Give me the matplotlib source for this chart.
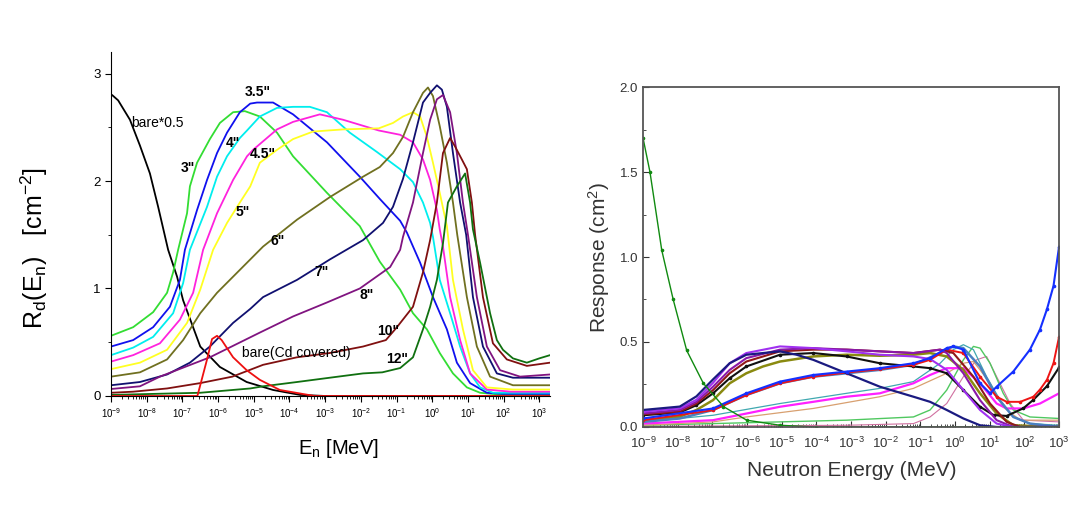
import numpy as np
import matplotlib.pyplot as plt
from matplotlib.ticker import LogLocator, LogFormatterSciNotation, NullFormatter, MultipleLocator

plt.rcParams['font.family'] = ['Liberation Sans', 'DejaVu Sans']
plt.rcParams['mathtext.default'] = 'regular'

# ---------------- left panel: Bonner sphere responses (log10 E [MeV], R [cm^-2])
bare_x = [-9, -8.97, -8.8, -8.47, -8.19, -7.91, -7.68, -7.4, -7.15, -6.98, -6.5, -5.95, -5.2, -4.46, -3.7, -3.0, 3.3]
bare_y = [2.80, 2.80, 2.75, 2.57, 2.33, 2.07, 1.76, 1.36, 1.11, 0.89, 0.46, 0.27, 0.13, 0.056, 0.01, 0.0, 0.0]

cd_x = [-9, -6.58, -6.31, -6.17, -6.03, -5.9, -5.58, -5.2, -4.83, -4.27, -3.3, 3.3]
cd_y = [0.0, 0.0, 0.34, 0.53, 0.56, 0.52, 0.36, 0.24, 0.15, 0.056, 0.0, 0.0]

s30_x = [-9, -8.38, -7.82, -7.43, -7.26, -7.12, -6.87, -6.79, -6.59, -6.23, -5.95, -5.58, -5.25, -4.83, -4.35,
         -3.9, -2.95, -2.03, -1.47, -0.9, -0.54, -0.15, 0.21, 0.58, 0.97, 1.34, 2.0, 3.3]
s30_y = [0.56, 0.64, 0.78, 0.96, 1.15, 1.36, 1.70, 1.95, 2.17, 2.39, 2.54, 2.64, 2.65, 2.60, 2.45,
         2.23, 1.89, 1.58, 1.25, 0.99, 0.77, 0.62, 0.40, 0.21, 0.08, 0.03, 0.01, 0.01]

s35_x = [-9, -8.38, -7.82, -7.35, -7.07, -6.93, -6.59, -6.31, -6.03, -5.75, -5.39, -5.1, -4.91, -4.46, -3.9,
         -2.95, -2.03, -1.46, -0.9, -0.71, -0.34, 0.02, 0.41, 0.69, 1.06, 1.53, 2.0, 3.3]
s35_y = [0.46, 0.52, 0.64, 0.83, 1.08, 1.36, 1.73, 2.01, 2.26, 2.45, 2.64, 2.72, 2.73, 2.73, 2.62,
         2.36, 2.04, 1.83, 1.63, 1.52, 1.24, 0.92, 0.62, 0.31, 0.12, 0.03, 0.02, 0.02]

s40_x = [-9, -8.38, -7.82, -7.26, -6.98, -6.79, -6.31, -6.03, -5.75, -5.39, -5.19, -4.83, -4.35, -3.9, -3.43,
         -2.95, -2.31, -1.55, -0.9, -0.54, -0.26, -0.06, 0.02, 0.21, 0.5, 0.78, 1.06, 1.34, 1.7, 3.3]
s40_y = [0.38, 0.45, 0.55, 0.77, 1.05, 1.36, 1.76, 2.04, 2.23, 2.40, 2.47, 2.60, 2.68, 2.69, 2.69,
         2.64, 2.45, 2.27, 2.11, 1.99, 1.80, 1.61, 1.48, 1.08, 0.77, 0.46, 0.21, 0.08, 0.03, 0.03]

s45_x = [-9, -8.38, -7.63, -7.07, -6.7, -6.42, -6.03, -5.58, -5.19, -5.02, -4.35, -3.9, -3.15, -2.5, -1.5,
         -0.9, -0.54, -0.26, -0.06, 0.13, 0.21, 0.3, 0.5, 0.78, 1.06, 1.53, 2.2, 3.3]
s45_y = [0.32, 0.38, 0.49, 0.71, 0.96, 1.36, 1.70, 2.01, 2.23, 2.29, 2.48, 2.55, 2.62, 2.57, 2.47,
         2.43, 2.36, 2.20, 2.01, 1.73, 1.55, 1.39, 0.92, 0.52, 0.21, 0.06, 0.04, 0.04]

s50_x = [-9, -8.19, -7.43, -6.87, -6.5, -6.14, -5.75, -5.39, -5.1, -4.83, -4.35, -3.9, -3.34, -2.5, -1.5,
         -1.1, -0.82, -0.54, -0.34, -0.15, 0.02, 0.21, 0.41, 0.58, 0.86, 1.14, 1.53, 2.26, 3.3]
s50_y = [0.25, 0.31, 0.43, 0.68, 0.99, 1.36, 1.61, 1.80, 1.95, 2.17, 2.29, 2.39, 2.46, 2.48, 2.49,
         2.54, 2.60, 2.64, 2.60, 2.41, 2.17, 1.89, 1.58, 1.08, 0.62, 0.24, 0.08, 0.06, 0.06]

s60_x = [-9, -8.19, -7.43, -6.98, -6.5, -6.03, -5.58, -5.1, -4.74, -3.79, -2.87, -1.94, -1.47, -1.1, -0.82,
         -0.54, -0.26, -0.12, 0.02, 0.21, 0.41, 0.58, 0.7, 0.97, 1.25, 1.62, 2.26, 3.3]
s60_y = [0.18, 0.22, 0.34, 0.52, 0.77, 0.96, 1.11, 1.27, 1.39, 1.64, 1.85, 2.04, 2.13, 2.26, 2.41,
         2.64, 2.82, 2.87, 2.79, 2.51, 2.17, 1.80, 1.50, 0.92, 0.46, 0.18, 0.10, 0.10]

s70_x = [-9, -8.19, -7.43, -6.79, -6.23, -5.58, -5.1, -4.74, -3.79, -2.87, -1.94, -1.38, -1.1, -0.82, -0.54,
         -0.26, -0.06, 0.13, 0.27, 0.41, 0.58, 0.78, 0.95, 1.14, 1.42, 1.81, 2.26, 3.3]
s70_y = [0.10, 0.13, 0.20, 0.31, 0.46, 0.68, 0.81, 0.92, 1.08, 1.27, 1.45, 1.61, 1.76, 2.02, 2.36,
         2.73, 2.82, 2.89, 2.85, 2.69, 2.26, 1.80, 1.50, 0.92, 0.46, 0.21, 0.17, 0.17]

s80_x = [-9, -8.19, -7.63, -6.23, -4.83, -3.9, -2.95, -2.03, -1.18, -0.9, -0.82, -0.54, -0.26, -0.06, 0.13,
         0.3, 0.5, 0.69, 0.86, 1.0, 1.25, 1.53, 1.9, 2.46, 3.3]
s80_y = [0.065, 0.09, 0.18, 0.36, 0.59, 0.74, 0.87, 1.0, 1.2, 1.36, 1.48, 1.80, 2.26, 2.57, 2.76,
         2.80, 2.64, 2.26, 1.80, 1.50, 0.92, 0.46, 0.24, 0.18, 0.20]

s100_x = [-9, -8.38, -7.43, -6.5, -5.6, -4.74, -3.79, -2.87, -1.94, -1.3, -0.99, -0.54, -0.26, -0.06, 0.13,
          0.3, 0.5, 0.64, 0.83, 0.97, 1.11, 1.2, 1.42, 1.7, 2.09, 2.65, 3.3]
s100_y = [0.03, 0.04, 0.07, 0.12, 0.18, 0.29, 0.36, 0.40, 0.46, 0.52, 0.64, 0.83, 1.15, 1.45, 1.80,
          2.26, 2.40, 2.32, 2.20, 2.11, 1.80, 1.50, 0.92, 0.49, 0.34, 0.28, 0.31]

s120_x = [-9, -6.5, -5.1, -4.74, -3.79, -2.87, -1.94, -1.4, -0.9, -0.54, -0.26, -0.06, 0.13, 0.3, 0.44,
          0.69, 0.92, 1.06, 1.14, 1.34, 1.62, 1.81, 1.98, 2.26, 2.65, 3.0, 3.3]
s120_y = [0.01, 0.03, 0.07, 0.09, 0.13, 0.17, 0.21, 0.22, 0.26, 0.36, 0.62, 0.83, 1.08, 1.42, 1.80,
          1.95, 2.07, 1.80, 1.55, 1.24, 0.77, 0.52, 0.43, 0.35, 0.31, 0.35, 0.38]

left_curves = [
    (bare_x, bare_y, 'black'),
    (s30_x, s30_y, '#33dd33'),
    (s35_x, s35_y, '#1010ee'),
    (s40_x, s40_y, '#00eeee'),
    (s45_x, s45_y, '#ff22dd'),
    (s50_x, s50_y, '#ffff22'),
    (s60_x, s60_y, '#707020'),
    (s70_x, s70_y, '#101070'),
    (s80_x, s80_y, '#801480'),
    (s100_x, s100_y, '#801010'),
    (s120_x, s120_y, '#107010'),
    (cd_x, cd_y, '#ee1010'),
]

left_labels = ['bare*0.5', '3"', '3.5"', '4"', '4.5"', '5"', '6"', '7"', '8"', '10"', '12"', 'bare(Cd covered)']
label_x = [-8.44, -6.84, -4.88, -5.58, -4.74, -5.3, -4.32, -3.09, -1.83, -1.24, -0.99, -5.33]
label_y = [2.54, 2.12, 2.83, 2.35, 2.25, 1.71, 1.44, 1.15, 0.94, 0.60, 0.34, 0.40]

# ---------------- right panel: response functions (log10 E [MeV], response [cm^2])
r_bare_x = [-9, -8.8, -8.46, -8.13, -7.74, -7.26, -6.68, -6.01, -5.05, -4.0, 3.0]
r_bare_y = [1.70, 1.50, 1.04, 0.75, 0.45, 0.257, 0.12, 0.04, 0.01, 0.0, 0.0]

r_navy_x = [-9, -7.94, -7.46, -6.98, -6.5, -6.02, -5.05, -4.57, -4.09, -3.13, -2.17, -1.2, -0.72, -0.24, 0.24, 0.72, 1.2, 3.0]
r_navy_y = [0.10, 0.12, 0.18, 0.28, 0.375, 0.425, 0.445, 0.425, 0.395, 0.316, 0.237, 0.178, 0.148, 0.10, 0.05, 0.01, 0.0, 0.0]

r_violet_x = [-9, -7.94, -7.46, -6.98, -6.5, -6.02, -5.05, -4.09, -3.13, -2.17, -1.2, -0.72, -0.24, 0.24, 0.72, 1.2, 1.68, 3.0]
r_violet_y = [0.09, 0.11, 0.16, 0.26, 0.375, 0.435, 0.474, 0.464, 0.445, 0.425, 0.415, 0.40, 0.336, 0.217, 0.10, 0.02, 0.0, 0.0]

r_purple_x = [-9, -7.94, -7.46, -6.98, -6.5, -6.02, -5.05, -4.09, -3.13, -2.17, -1.2, -0.43, -0.24, 0.24, 0.72, 1.2, 1.68, 3.0]
r_purple_y = [0.08, 0.10, 0.148, 0.237, 0.336, 0.405, 0.455, 0.464, 0.455, 0.445, 0.435, 0.455, 0.435, 0.316, 0.158, 0.04, 0.0, 0.0]

r_maroon_x = [-9, -7.94, -7.46, -6.98, -6.5, -6.02, -5.05, -4.09, -3.13, -2.17, -1.2, -0.43, -0.05, 0.53, 1.01, 1.49, 1.88, 3.0]
r_maroon_y = [0.075, 0.09, 0.138, 0.217, 0.316, 0.385, 0.445, 0.455, 0.455, 0.445, 0.435, 0.455, 0.435, 0.296, 0.138, 0.03, 0.0, 0.0]

r_black_x = [-9, -7.94, -7.46, -6.98, -6.5, -6.02, -5.05, -4.09, -3.13, -2.17, -1.2, -0.72, -0.24, 0.24, 0.72,
             1.11, 1.49, 1.97, 2.26, 2.65, 3.0]
r_black_y = [0.069, 0.085, 0.128, 0.198, 0.287, 0.356, 0.425, 0.435, 0.415, 0.375, 0.356, 0.346, 0.316, 0.217, 0.119,
             0.07, 0.065, 0.11, 0.16, 0.24, 0.35]

r_olive_x = [-9, -7.94, -7.46, -6.98, -6.5, -6.02, -5.54, -5.05, -4.09, -3.13, -2.17, -1.2, -0.72, -0.24, 0.24, 0.72, 1.2, 1.68, 3.0]
r_olive_y = [0.04, 0.06, 0.10, 0.158, 0.257, 0.316, 0.356, 0.385, 0.415, 0.425, 0.419, 0.425, 0.435, 0.415, 0.336, 0.198, 0.079, 0.01, 0.0]

r_steel_x = [-9, -7.94, -6.98, -6.02, -5.05, -4.09, -3.13, -2.17, -1.2, -0.43, -0.05, 0.24, 0.72, 1.2, 1.68, 2.16, 3.0]
r_steel_y = [0.03, 0.05, 0.10, 0.188, 0.257, 0.296, 0.316, 0.336, 0.366, 0.435, 0.474, 0.464, 0.356, 0.178, 0.059, 0.02, 0.0]

r_blue_x = [-9, -6.98, -6.02, -5.05, -4.09, -3.13, -2.17, -1.2, -0.72, -0.24, -0.05, 0.24, 0.72, 1.01, 1.2, 1.68,
            2.16, 2.45, 2.65, 2.84, 3.0]
r_blue_y = [0.05, 0.109, 0.198, 0.267, 0.306, 0.326, 0.346, 0.375, 0.405, 0.464, 0.474, 0.455, 0.257, 0.198, 0.237, 0.326,
            0.455, 0.573, 0.692, 0.83, 1.06]

r_red_x = [-9, -6.98, -6.02, -5.05, -4.09, -3.13, -2.17, -1.2, -0.72, -0.24, 0.24, 0.72, 1.2, 1.49, 1.88, 2.26,
           2.45, 2.65, 2.84, 3.0]
r_red_y = [0.04, 0.099, 0.188, 0.257, 0.296, 0.32, 0.34, 0.366, 0.395, 0.455, 0.435, 0.296, 0.178, 0.148, 0.148, 0.178,
           0.22, 0.277, 0.375, 0.53]

r_teal_x = [-9, -6.98, -5.05, -3.13, -2.17, -1.2, -0.43, -0.05, 0.24, 0.53, 0.91, 1.30, 1.68, 2.16, 3.0]
r_teal_y = [0.03, 0.069, 0.138, 0.198, 0.227, 0.267, 0.375, 0.455, 0.484, 0.455, 0.296, 0.158, 0.059, 0.02, 0.01]

r_mag_x = [-9, -6.98, -6.02, -5.05, -4.09, -3.13, -2.17, -1.2, -0.72, -0.24, 0.24, 0.72, 1.2, 1.49, 1.97, 2.45, 3.0]
r_mag_y = [0.02, 0.04, 0.079, 0.119, 0.148, 0.178, 0.198, 0.257, 0.306, 0.346, 0.346, 0.257, 0.138, 0.109, 0.109, 0.138, 0.198]

r_tan_x = [-9, -6.98, -6.02, -4.09, -2.17, -1.2, -0.24, 0.24, 0.53, 0.72, 1.01, 1.39, 1.88, 3.0]
r_tan_y = [0.01, 0.03, 0.059, 0.109, 0.178, 0.227, 0.316, 0.375, 0.385, 0.336, 0.257, 0.118, 0.04, 0.04]

r_lgreen_x = [-9, -6.98, -5.05, -3.13, -1.2, -0.72, -0.24, 0.24, 0.53, 0.72, 1.01, 1.39, 1.68, 2.16, 3.0]
r_lgreen_y = [0.01, 0.02, 0.03, 0.04, 0.059, 0.10, 0.217, 0.395, 0.474, 0.464, 0.375, 0.198, 0.10, 0.059, 0.05]

r_pink_x = [-9, -3.13, -1.2, -0.72, -0.24, 0.24, 0.62, 0.91, 1.2, 1.59, 1.97, 3.0]
r_pink_y = [0.004, 0.01, 0.02, 0.059, 0.138, 0.296, 0.395, 0.415, 0.296, 0.138, 0.04, 0.03]

right_curves = [
    # x, y, colour, linewidth, marker
    (r_pink_x, r_pink_y, '#d070a0', 0.8, None),
    (r_lgreen_x, r_lgreen_y, '#50c860', 1.0, None),
    (r_tan_x, r_tan_y, '#d8a070', 0.9, None),
    (r_teal_x, r_teal_y, '#40a8b0', 0.9, None),
    (r_mag_x, r_mag_y, '#ff20ff', 1.6, None),
    (r_olive_x, r_olive_y, '#8a8a10', 1.8, None),
    (r_steel_x, r_steel_y, '#4a80c0', 1.8, None),
    (r_black_x, r_black_y, '#111111', 1.5, 'o'),
    (r_red_x, r_red_y, '#ee1515', 1.4, 'o'),
    (r_maroon_x, r_maroon_y, '#901818', 1.5, None),
    (r_purple_x, r_purple_y, '#8a18a8', 1.5, None),
    (r_violet_x, r_violet_y, '#a030f0', 1.5, None),
    (r_navy_x, r_navy_y, '#1a1a80', 1.6, None),
    (r_blue_x, r_blue_y, '#1530ff', 1.5, 'o'),
    (r_bare_x, r_bare_y, '#108a10', 1.0, 'o'),
]

fig = plt.figure(figsize=(10.8, 5.14), dpi=100)

# ---------------- left panel
ax1 = fig.add_axes([0.1028, 0.2296, 0.4065, 0.6692])
for x, y, c in left_curves:
    ax1.plot(10 ** np.array(x), y, color=c, lw=1.3)
ax1.set_xscale('log')
ax1.set_xlim(1e-9, 10 ** 3.3)
ax1.set_ylim(0, 3.2)
for sp in ['top', 'right']:
    ax1.spines[sp].set_visible(False)
ax1.xaxis.set_major_locator(LogLocator(base=10, numticks=20))
ax1.xaxis.set_minor_locator(LogLocator(base=10, subs=np.arange(2, 10), numticks=20))
ax1.xaxis.set_major_formatter(LogFormatterSciNotation())
ax1.xaxis.set_minor_formatter(NullFormatter())
ax1.yaxis.set_major_locator(MultipleLocator(1))
ax1.yaxis.set_minor_locator(MultipleLocator(0.5))
ax1.tick_params(axis='x', which='major', labelsize=7, length=4, direction='out')
ax1.tick_params(axis='x', which='minor', length=2.5, direction='out')
ax1.tick_params(axis='y', which='major', labelsize=9.5, length=4, direction='out')
ax1.tick_params(axis='y', which='minor', length=2.5, direction='out')
ax1.set_xlabel('E$_n$ [MeV]', fontsize=14.5)
ax1.set_ylabel('R$_d$(E$_n$)   [cm$^{-2}$]', fontsize=18)
ax1.xaxis.set_label_coords(0.517, -0.12)
ax1.yaxis.set_label_coords(-0.14, 0.43)

for t, lx, ly in zip(left_labels, label_x, label_y):
    plain = t.startswith('bare')
    ax1.text(10 ** lx, ly, t, fontsize=10,
             fontweight='normal' if plain else 'bold',
             ha='left' if plain else 'center', va='center')

# ---------------- right panel
ax2 = fig.add_axes([0.5954, 0.1693, 0.3852, 0.6614])
for x, y, c, lw, m in right_curves:
    if m:
        ax2.plot(10 ** np.array(x), y, color=c, lw=lw, marker=m, ms=1.6)
    else:
        ax2.plot(10 ** np.array(x), y, color=c, lw=lw)
ax2.set_xscale('log')
ax2.set_xlim(1e-9, 1e3)
ax2.set_ylim(0, 2.0)
for sp in ax2.spines.values():
    sp.set_color('#555555')
    sp.set_linewidth(1.3)
ax2.xaxis.set_major_locator(LogLocator(base=10, numticks=20))
ax2.xaxis.set_minor_locator(LogLocator(base=10, subs=np.arange(2, 10), numticks=20))
ax2.xaxis.set_major_formatter(LogFormatterSciNotation())
ax2.xaxis.set_minor_formatter(NullFormatter())
ax2.yaxis.set_major_locator(MultipleLocator(0.5))
ax2.yaxis.set_minor_locator(MultipleLocator(0.25))
ax2.yaxis.set_major_formatter(plt.FormatStrFormatter('%.1f'))
ax2.tick_params(which='both', direction='in', colors='#333333', labelsize=9.5)
ax2.tick_params(which='major', length=4)
ax2.tick_params(which='minor', length=2)
ax2.tick_params(axis='x', pad=6)
ax2.set_xlabel('Neutron Energy (MeV)', fontsize=15, color='#333333')
ax2.set_ylabel('Response (cm$^2$)', fontsize=15, color='#333333')
ax2.xaxis.set_label_coords(0.502, -0.1)
ax2.yaxis.set_label_coords(-0.075, 0.5)

fig.savefig('out.png', dpi=100)
